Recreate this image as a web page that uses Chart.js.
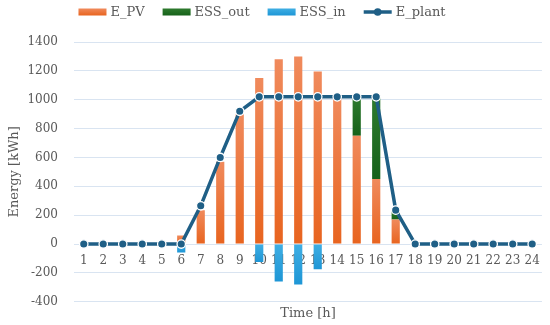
<!DOCTYPE html>
<html>
<head>
<meta charset="utf-8">
<script src="https://cdn.jsdelivr.net/npm/chart.js@4.4.1/dist/chart.umd.min.js"></script>
<style>
    html, body { margin: 0; padding: 0; background: #ffffff; }
    #wrap { width: 550px; height: 325px; }
</style>
</head>
<body>
<div id="wrap"><canvas id="energyChart"></canvas></div>
<script>
// ===========================
// DATA
// ===========================

const hours = ['1', '2', '3', '4', '5', '6', '7', '8', '9', '10', '11', '12',
               '13', '14', '15', '16', '17', '18', '19', '20', '21', '22', '23', '24'];
const ePV    = [0, 0, 0, 0, 0, 60, 235, 570, 900, 1150, 1280, 1300, 1195, 1020, 750, 450, 170, 0, 0, 0, 0, 0, 0, 0];
const essOut = [0, 0, 0, 0, 0, 0, 0, 0, 0, 0, 0, 0, 0, 0, 270, 570, 65, 0, 0, 0, 0, 0, 0, 0];
const essIn  = [0, 0, 0, 0, 0, -58, 0, 0, 0, -125, -260, -280, -175, 0, 0, 0, 0, 0, 0, 0, 0, 0, 0, 0];
const ePlant = [0, 0, 0, 0, 0, 0, 265, 600, 920, 1020, 1020, 1020, 1020, 1020, 1020, 1020, 235, 0, 0, 0, 0, 0, 0, 0];
const yTicks = [-400, -200, 0, 200, 400, 600, 800, 1000, 1200, 1400];

const FONT = 'DejaVu Serif';
const TEXT = '#595959';
const GRID = '#D9E4F1';
const LINE = '#1F5F86';

// ===========================
// HELPERS
// ===========================

// vertical gradient across one bar, light at top
function barGradient(context, base, top, light, dark) {
    const chart = context.chart;
    if (!chart.chartArea || !chart.scales.y) return dark;
    const y0 = chart.scales.y.getPixelForValue(top);
    const y1 = chart.scales.y.getPixelForValue(base);
    if (!isFinite(y0) || !isFinite(y1) || Math.abs(y1 - y0) < 1) return dark;
    const g = chart.ctx.createLinearGradient(0, y0, 0, y1);
    g.addColorStop(0, light);
    g.addColorStop(1, dark);
    return g;
}

// legend drawn by hand so it can sit tight at the top
const topLegend = {
    id: 'topLegend',
    afterDraw(chart) {
        const c = chart.ctx;
        const y = 12;
        const boxW = 28, gap = 4, spacing = 18;
        c.save();
        c.font = '13px "' + FONT + '"';
        c.textBaseline = 'middle';
        const items = chart.data.datasets.map(d => ({ ds: d, w: c.measureText(d.label).width }));
        const total = items.reduce((s, it) => s + boxW + gap + it.w, 0) + spacing * (items.length - 1);
        let x = chart.width / 2 - 13 - total / 2;
        items.forEach(it => {
            const d = it.ds;
            if (d.type === 'line') {
                c.strokeStyle = LINE;
                c.lineWidth = 3.5;
                c.beginPath(); c.moveTo(x, y); c.lineTo(x + boxW, y); c.stroke();
                c.fillStyle = LINE;
                c.beginPath(); c.arc(x + boxW / 2, y, 3.8, 0, Math.PI * 2); c.fill();
            } else {
                const g = c.createLinearGradient(0, y - 3.5, 0, y + 3.5);
                g.addColorStop(0, d.legendColors[0]);
                g.addColorStop(1, d.legendColors[1]);
                c.fillStyle = g;
                c.fillRect(x, y - 3.5, boxW, 7);
            }
            c.fillStyle = TEXT;
            c.fillText(d.label, x + boxW + gap, y + 1);
            x += boxW + gap + it.w + spacing;
        });
        c.restore();
    }
};

// ===========================
// CHART
// ===========================

const ctx = document.getElementById('energyChart');

new Chart(ctx, {
    data: {
        labels: hours,
        datasets: [
            {
                type: 'bar',
                label: 'E_PV',
                data: ePV,
                legendColors: ['#F08A5C', '#E8641F'],
                backgroundColor: (c) => barGradient(c, 0, ePV[c.dataIndex], '#F08A5C', '#E8641F'),
                barPercentage: 0.42,
                categoryPercentage: 1.0,
                stack: 'energy',
                order: 1
            },
            {
                type: 'bar',
                label: 'ESS_out',
                data: essOut,
                legendColors: ['#2E7A2E', '#16621A'],
                backgroundColor: (c) => barGradient(c, ePV[c.dataIndex], ePV[c.dataIndex] + essOut[c.dataIndex], '#2E7A2E', '#16621A'),
                barPercentage: 0.42,
                categoryPercentage: 1.0,
                stack: 'energy',
                order: 1
            },
            {
                type: 'bar',
                label: 'ESS_in',
                data: essIn,
                legendColors: ['#3FAEE3', '#1E96D6'],
                backgroundColor: (c) => barGradient(c, essIn[c.dataIndex], 0, '#3FAEE3', '#1E96D6'),
                barPercentage: 0.42,
                categoryPercentage: 1.0,
                stack: 'energy',
                order: 1
            },
            {
                type: 'line',
                label: 'E_plant',
                data: ePlant,
                borderColor: LINE,
                borderWidth: 3.5,
                backgroundColor: LINE,
                pointBackgroundColor: LINE,
                pointBorderColor: '#ffffff',
                pointBorderWidth: 1.3,
                pointRadius: 4.2,
                tension: 0,
                stack: 'plant',
                order: 0
            }
        ]
    },
    plugins: [topLegend],
    options: {
        responsive: true,
        maintainAspectRatio: false,
        animation: false,
        layout: {
            padding: { left: 3, right: 0, top: 42, bottom: 0 }
        },
        plugins: {
            tooltip: { enabled: false },
            legend: { display: false }
        },
        scales: {
            x: {
                type: 'category',
                position: { y: 0 },
                stacked: true,
                offset: true,
                grid: { display: false, drawTicks: false },
                border: { display: false },
                ticks: {
                    color: TEXT,
                    font: { family: FONT, size: 12 },
                    padding: 10,
                    autoSkip: false,
                    maxRotation: 0
                }
            },
            x2: {
                type: 'category',
                position: 'bottom',
                grid: { display: false, drawTicks: false },
                border: { display: false },
                ticks: { display: false },
                title: {
                    display: true,
                    text: 'Time [h]',
                    color: TEXT,
                    font: { family: FONT, size: 13 },
                    padding: { top: 4, bottom: 2 }
                }
            },
            y: {
                stacked: true,
                min: yTicks[0],
                max: yTicks[yTicks.length - 1],
                afterBuildTicks: (scale) => { scale.ticks = yTicks.map(v => ({ value: v })); },
                afterFit: (scale) => { scale.width = 71; },
                grid: { color: GRID, lineWidth: 1, drawTicks: false },
                border: { display: false },
                ticks: {
                    color: TEXT,
                    font: { family: FONT, size: 12 },
                    padding: 16,
                    callback: (v) => String(v)
                },
                title: {
                    display: true,
                    text: 'Energy [kWh]',
                    color: TEXT,
                    font: { family: FONT, size: 13 },
                    padding: 4
                }
            }
        }
    }
});
</script>
</body>
</html>
